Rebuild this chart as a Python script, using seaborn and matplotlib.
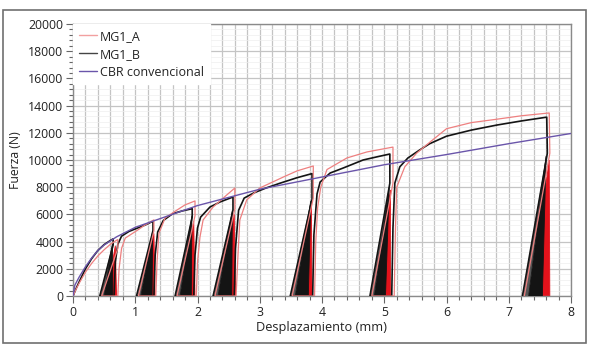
import matplotlib
matplotlib.use("Agg")
import numpy as np
import pandas as pd
import seaborn as sns
import matplotlib.pyplot as plt
from matplotlib.ticker import MultipleLocator
from matplotlib.patches import Rectangle
from matplotlib.lines import Line2D

# ---------------- data ----------------
series_names = ["MG1_A", "MG1_B", "CBR convencional"]

# MG1_B (black) load / unload path
b_x = [0, 0.05, 0.1, 0.2, 0.3, 0.4, 0.5, 0.6, 0.645, 0.645, 0.43, 0.66,
       0.68, 0.72, 0.78, 0.9, 1.0, 1.16, 1.285, 1.285, 1.02, 1.30,
       1.32, 1.36, 1.45, 1.6, 1.75, 1.915, 1.915, 1.64, 1.94,
       1.96, 2.0, 2.05, 2.2, 2.36, 2.57, 2.57, 2.25, 2.59,
       2.61, 2.66, 2.75, 2.9, 3.1, 3.33, 3.6, 3.84, 3.84, 3.49, 3.85,
       3.87, 3.92, 3.97, 4.13, 4.34, 4.66, 4.9, 5.09, 5.09, 4.77, 5.12,
       5.14, 5.17, 5.25, 5.38, 5.57, 5.73, 6.0, 6.4, 6.81, 7.2, 7.61, 7.62, 7.22]
b_F = [0, 550, 1050, 2000, 2750, 3350, 3780, 4080, 4200, 3750, 0, 0,
       2500, 3800, 4400, 4750, 4930, 5220, 5500, 4800, 0, 0,
       3000, 4700, 5550, 6050, 6250, 6420, 5800, 0, 0,
       3000, 5000, 5800, 6540, 6910, 7280, 6300, 0, 0,
       3500, 6300, 7200, 7570, 7940, 8300, 8700, 9000, 7100, 0, 0,
       4500, 7500, 8380, 9040, 9410, 10000, 10250, 10440, 8300, 0, 0,
       5000, 8300, 9500, 10150, 10740, 11200, 11750, 12200, 12570, 12870, 13150, 10500, 0]

# MG1_A (red) load / unload path
a_x = [0, 0.05, 0.1, 0.2, 0.3, 0.4, 0.5, 0.6, 0.7, 0.72, 0.72, 0.46, 0.72,
       0.74, 0.78, 0.84, 1.04, 1.15, 1.3, 1.3, 1.05, 1.33,
       1.35, 1.38, 1.48, 1.67, 1.8, 1.96, 1.96, 1.67, 1.98,
       2.0, 2.04, 2.09, 2.25, 2.47, 2.6, 2.6, 2.28, 2.62,
       2.65, 2.68, 2.79, 3.0, 3.38, 3.6, 3.86, 3.86, 3.52, 3.88,
       3.9, 3.93, 3.98, 4.08, 4.4, 4.72, 5.14, 5.14, 4.8, 5.16,
       5.18, 5.2, 5.33, 5.52, 5.73, 6.0, 6.4, 6.81, 7.2, 7.65, 7.66, 7.25]
a_F = [0, 500, 950, 1750, 2400, 2950, 3400, 3800, 4100, 4150, 3500, 0, 0,
       2000, 3500, 4260, 4850, 5200, 5600, 4800, 0, 0,
       2500, 4600, 5740, 6320, 6700, 6990, 5900, 0, 0,
       2500, 4340, 5590, 6540, 7430, 7940, 6400, 0, 0,
       3000, 5590, 7060, 7940, 8750, 9200, 9560, 7200, 0, 0,
       4000, 6500, 8000, 9300, 10150, 10590, 10950, 8300, 0, 0,
       5000, 8000, 9500, 10500, 11300, 12300, 12750, 13000, 13250, 13460, 10500, 0]

# CBR convencional (purple)
c_x = [0, 0.03, 0.1, 0.2, 0.3, 0.4, 0.5, 0.7, 1.0, 1.5, 2.0, 2.5, 3.0, 3.5,
       4.0, 5.0, 6.0, 7.0, 8.0]
c_F = [0, 800, 1400, 2150, 2800, 3350, 3750, 4350, 5050, 5850, 6650, 7250,
       7850, 8300, 8750, 9650, 10400, 11200, 11950]

# cyclic-loop regions: sparse-line start, dense start, dense end, apex
b_loop_xs = [0.44, 1.03, 1.65, 2.26, 3.50, 4.78, 7.23]
b_loop_x0 = [0.50, 1.09, 1.72, 2.33, 3.57, 4.84, 7.32]
b_loop_x1 = [0.64, 1.27, 1.90, 2.55, 3.78, 5.02, 7.54]
b_loop_tx = [0.635, 1.28, 1.91, 2.56, 3.82, 5.08, 7.60]
b_loop_tF = [3900, 4800, 5900, 6300, 7000, 8000, 10300]

a_loop_x0 = [0.54, 1.12, 1.75, 2.36, 3.60, 4.86, 7.36]
a_loop_x1 = [0.70, 1.32, 1.96, 2.61, 3.84, 5.10, 7.66]
a_loop_tx = [0.68, 1.30, 1.94, 2.59, 3.83, 5.10, 7.65]
a_loop_tF = [3700, 4600, 5500, 6000, 6800, 7800, 10000]

x_ticks = [0, 1, 2, 3, 4, 5, 6, 7, 8]
y_ticks = [0, 2000, 4000, 6000, 8000, 10000, 12000, 14000, 16000, 18000, 20000]

# ---------------- styling ----------------
sns.set_theme(style="white")
plt.rcParams["font.family"] = ["Open Sans", "DejaVu Sans"]

col_a_line = "#ee8080"
col_a_fill = "#e3121b"
col_b = "#141414"
col_c = "#6a55aa"

fig = plt.figure(figsize=(5.89, 3.51), dpi=100)
ax = fig.add_axes([73 / 589, 55 / 351, 498 / 589, 272 / 351])

# loop fills
for i in range(len(a_loop_x0)):
    ax.fill([a_loop_x0[i], a_loop_tx[i], a_loop_x1[i]], [0, a_loop_tF[i], 0],
            color=col_a_fill, lw=0.6, zorder=2)
for i in range(len(b_loop_x0)):
    ax.fill([b_loop_xs[i], b_loop_tx[i], b_loop_x0[i]], [0, b_loop_tF[i], 0],
            color="#555555", lw=0.0, zorder=2.5)
    ax.fill([b_loop_x0[i], b_loop_tx[i], b_loop_x1[i]], [0, b_loop_tF[i], 0],
            color=col_b, lw=0.6, zorder=3)

df_b = pd.DataFrame({"x": b_x, "F": b_F})
df_a = pd.DataFrame({"x": a_x, "F": a_F})
df_c = pd.DataFrame({"x": c_x, "F": c_F})

sns.lineplot(data=df_b, x="x", y="F", sort=False, estimator=None, color=col_b,
             lw=1.2, ax=ax, zorder=4)
sns.lineplot(data=df_a, x="x", y="F", sort=False, estimator=None, color=col_a_line,
             lw=0.9, ax=ax, zorder=5)
sns.lineplot(data=df_c, x="x", y="F", sort=False, estimator=None, color=col_c,
             lw=1.0, ax=ax, zorder=6)

ax.set_xlim(0, 8)
ax.set_ylim(0, 20000)
ax.set_xticks(x_ticks)
ax.set_yticks(y_ticks)
ax.xaxis.set_minor_locator(MultipleLocator(0.2))
ax.yaxis.set_minor_locator(MultipleLocator(400))

ax.grid(which="major", axis="both", color="#c4c4c4", lw=0.9, zorder=0)
ax.grid(which="minor", axis="x", color="#c4c4c4", lw=0.9, zorder=0)
ax.grid(which="minor", axis="y", color="#eeeeee", lw=0.5, zorder=0)
ax.set_axisbelow(True)

for s in ax.spines.values():
    s.set_visible(True)
    s.set_color("#8a8a8a")
    s.set_linewidth(1.0)

ax.tick_params(axis="both", which="major", direction="out", length=5, width=0.8,
               color="#666666", labelsize=8.8, labelcolor="#222222", pad=2)
ax.tick_params(axis="both", which="minor", direction="out", length=3, width=0.8,
               color="#666666")
ax.tick_params(axis="x", which="both", bottom=True)
ax.tick_params(axis="y", which="both", left=True)

ax.set_xlabel("Desplazamiento (mm)", fontsize=9.2, color="#222222", labelpad=2)
ax.set_ylabel("Fuerza (N)", fontsize=8.8, color="#222222", labelpad=4)

handles = [Line2D([], [], color="#f2a0a0", lw=1.0),
           Line2D([], [], color="#444444", lw=1.0),
           Line2D([], [], color=col_c, lw=1.0)]
leg = ax.legend(handles, series_names, loc="upper left", bbox_to_anchor=(0, 1),
                borderaxespad=0, frameon=True, fancybox=False, framealpha=1,
                facecolor="white", edgecolor="white", fontsize=9.0,
                handlelength=1.5, handletextpad=0.2, labelspacing=0.4,
                borderpad=0.45)
for t in leg.get_texts():
    t.set_color("#222222")
leg.set_zorder(10)

fig.patches.append(Rectangle((3 / 589, 8 / 351), 583 / 589, 333 / 351,
                             transform=fig.transFigure, fill=False,
                             edgecolor="#707070", lw=1.2))

fig.savefig("out.png", dpi=100)
